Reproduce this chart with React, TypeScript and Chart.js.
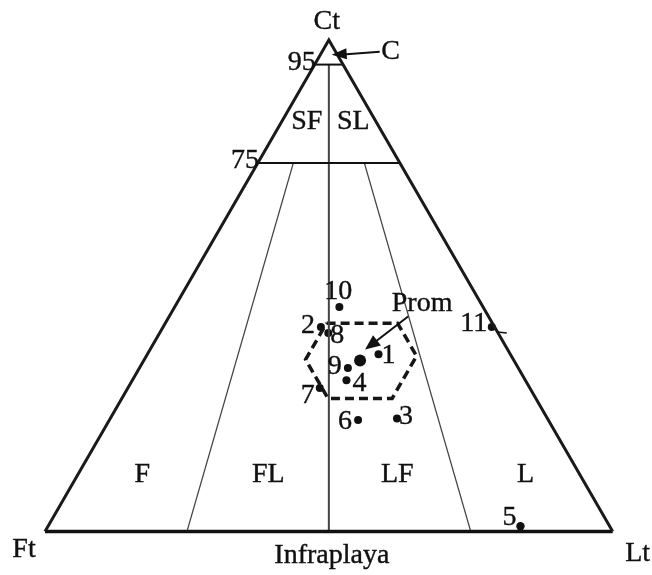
import React, { useEffect, useRef } from "react";
import { Chart, registerables } from "chart.js";

Chart.register(...registerables);

const SQ = Math.sqrt(3) / 2;
const FONT = "28px 'Liberation Serif'";

// Sample compositions (%): Ct, Lt, Ft
const sampleNames = ["1", "2", "3", "4", "5", "6", "7", "8", "9", "10", "11"];
const sampleCt = [36.1, 41.6, 23.0, 30.8, 1.1, 22.7, 29.2, 40.4, 33.3, 45.7, 41.6];
const sampleLt = [40.7, 27.8, 50.5, 37.7, 83.2, 43.8, 33.8, 29.7, 36.7, 29.0, 57.9];
const sampleFt = [23.2, 30.6, 26.5, 31.5, 15.7, 33.5, 37.0, 29.9, 30.0, 25.3, 0.5];

// Mean (Prom) and component C
const promCt = 34.8;
const promLt = 38.1;
const cCt = 97.0;
const cLt = 2.0;

// Std-dev hexagon vertices (%)
const hexCt = [42.4, 42.4, 35.7, 27.1, 27.1, 35.0, 42.4];
const hexLt = [28.4, 40.9, 47.6, 47.6, 36.3, 28.4, 28.4];

// Classification boundaries
const ctLevels = [95, 75];
const ltRatios = [25, 50, 75]; // Lt/(Lt+Ft) %
const ratioTopCt = [75, 95, 75];

const regionNames = ["SF", "SL", "F", "FL", "LF", "L"];
const regionCt = [83.4, 83.4, 11.5, 11.5, 11.5, 11.5];
const regionLt = [4.4, 12.6, 11.4, 33.6, 56.3, 78.9];

const toX = (ct: number, lt: number) => lt / 100 + ct / 200;
const toY = (ct: number) => (ct / 100) * SQ;
const pt = (ct: number, lt: number) => ({ x: toX(ct, lt), y: toY(ct) });

const labelOffsets: Record<string, [number, number]> = {
  "1": [10, 2],
  "2": [-13, -1],
  "3": [9, -2],
  "4": [13, 3],
  "5": [-11, -9],
  "6": [-13, 2],
  "7": [-12, 8],
  "8": [9, 3],
  "9": [-13, -1],
  "10": [-1, -15],
  "11": [-18, -3],
};

function arrowHead(ctx: CanvasRenderingContext2D, fx: number, fy: number, tx: number, ty: number, len: number, half: number) {
  const a = Math.atan2(ty - fy, tx - fx);
  ctx.beginPath();
  ctx.moveTo(tx, ty);
  ctx.lineTo(tx - len * Math.cos(a) + half * Math.sin(a), ty - len * Math.sin(a) - half * Math.cos(a));
  ctx.lineTo(tx - len * Math.cos(a) - half * Math.sin(a), ty - len * Math.sin(a) + half * Math.cos(a));
  ctx.closePath();
  ctx.fill();
}

function txt(ctx: CanvasRenderingContext2D, s: string, x: number, y: number) {
  ctx.fillText(s, x, y);
  ctx.strokeText(s, x, y);
}

const textPlugin = {
  id: "ternaryText",
  afterDatasetsDraw(chart: any) {
    const { ctx } = chart;
    const xs = chart.scales.x;
    const ys = chart.scales.y;
    const P = (ct: number, lt: number): [number, number] => [xs.getPixelForValue(toX(ct, lt)), ys.getPixelForValue(toY(ct))];
    ctx.save();
    ctx.fillStyle = "#111";
    ctx.strokeStyle = "#111";
    ctx.lineWidth = 0.4;
    ctx.font = FONT + ", 'Times New Roman', serif";
    ctx.textAlign = "center";
    ctx.textBaseline = "middle";

    // vertex labels
    const apex = P(100, 0);
    const ft = P(0, 0);
    const lt = P(0, 100);
    txt(ctx, "Ct", apex[0] - 2, apex[1] - 18);
    txt(ctx, "Ft", ft[0] - 21, ft[1] + 18);
    txt(ctx, "Lt", lt[0] + 25, lt[1] + 22);
    const mid = P(0, 50);
    txt(ctx, "Infraplaya", mid[0] + 3, mid[1] + 24);

    // level labels
    ctx.textAlign = "right";
    ctLevels.forEach((c) => {
      const p = P(c, 0);
      txt(ctx, String(c), p[0] + 1, p[1] - 2);
    });
    ctx.textAlign = "center";

    // region labels
    regionNames.forEach((n, i) => {
      const p = P(regionCt[i], regionLt[i]);
      txt(ctx, n, p[0], p[1]);
    });

    // sample labels
    sampleNames.forEach((n, i) => {
      const p = P(sampleCt[i], sampleLt[i]);
      const o = labelOffsets[n];
      txt(ctx, n, p[0] + o[0], p[1] + o[1]);
    });

    // small tick by sample 11
    const p11 = P(sampleCt[10], sampleLt[10]);
    ctx.lineWidth = 1.5;
    ctx.beginPath();
    ctx.moveTo(p11[0] + 6, p11[1] + 5);
    ctx.lineTo(p11[0] + 15, p11[1] + 6);
    ctx.stroke();

    // C arrow
    const pc = P(cCt, cLt);
    ctx.lineWidth = 1.8;
    ctx.beginPath();
    ctx.moveTo(pc[0] + 48, pc[1] - 3);
    ctx.lineTo(pc[0] + 8, pc[1]);
    ctx.stroke();
    arrowHead(ctx, pc[0] + 48, pc[1] - 3, pc[0], pc[1], 15, 5.5);
    ctx.lineWidth = 0.4;
    txt(ctx, "C", pc[0] + 59, pc[1] - 3);

    // Prom arrow
    const pp = P(promCt, promLt);
    const tip: [number, number] = [pp[0] + 5, pp[1] - 11];
    const tail: [number, number] = [pp[0] + 48, pp[1] - 44];
    ctx.lineWidth = 2;
    ctx.beginPath();
    ctx.moveTo(tail[0], tail[1]);
    ctx.lineTo(tip[0] + 8, tip[1] - 6);
    ctx.stroke();
    arrowHead(ctx, tail[0], tail[1], tip[0], tip[1], 15, 6.5);
    ctx.lineWidth = 0.4;
    txt(ctx, "Prom", pp[0] + 62, pp[1] - 57);

    ctx.restore();
  },
};

export default function App() {
  const ref = useRef<HTMLCanvasElement | null>(null);

  useEffect(() => {
    if (!ref.current) return;

    const lineDs = (data: { x: number; y: number }[], color: string, width: number, extra: any = {}) => ({
      type: "scatter" as const,
      data,
      showLine: true,
      borderColor: color,
      borderWidth: width,
      pointRadius: 0,
      fill: false,
      tension: 0,
      clip: false,
      ...extra,
    });

    const datasets: any[] = [];

    // Outer triangle
    datasets.push(lineDs([pt(0, 0), pt(100, 0), pt(0, 100)], "#1a1a1a", 3));
    datasets.push(lineDs([pt(0, 0), pt(0, 100)], "#111", 3.5));

    // Ct level lines
    ctLevels.forEach((c) => {
      datasets.push(lineDs([pt(c, 0), pt(c, 100 - c)], "#111", 2));
    });

    // Ratio lines
    ltRatios.forEach((r, i) => {
      const top = ratioTopCt[i];
      const isCenter = r === 50;
      datasets.push(
        lineDs(
          [pt(top, ((100 - top) * r) / 100), pt(0, r)],
          "#444",
          isCenter ? 2 : 1.3
        )
      );
    });

    // Hexagon
    datasets.push(
      lineDs(
        hexCt.map((c, i) => pt(c, hexLt[i])),
        "#161616",
        3.5,
        { borderDash: [9, 5], borderCapStyle: "butt", borderJoinStyle: "miter" }
      )
    );

    // Samples
    datasets.push({
      type: "scatter",
      data: sampleCt.map((c, i) => pt(c, sampleLt[i])),
      pointRadius: sampleNames.map((n) => (n === "5" ? 4.2 : 4)),
      pointBackgroundColor: "#111",
      pointBorderWidth: 0,
      showLine: false,
      clip: false,
    });

    // Prom mean
    datasets.push({
      type: "scatter",
      data: [pt(promCt, promLt)],
      pointRadius: 6,
      pointBackgroundColor: "#111",
      pointBorderWidth: 0,
      showLine: false,
      clip: false,
    });

    const chart = new Chart(ref.current, {
      type: "scatter",
      data: { datasets },
      options: {
        responsive: false,
        animation: false,
        devicePixelRatio: 1,
        layout: { padding: { left: 45, right: 39.3, top: 40, bottom: 43.4 } },
        plugins: { legend: { display: false }, tooltip: { enabled: false } },
        events: [],
        scales: {
          x: { type: "linear", min: 0, max: 1, display: false },
          y: { type: "linear", min: 0, max: SQ, display: false },
        },
      },
      plugins: [textPlugin],
    });
    let alive = true;
    const fonts = (document as any).fonts;
    if (fonts && fonts.load) {
      fonts
        .load(FONT)
        .then(() => {
          if (alive) chart.update();
        })
        .catch(() => {});
    }
    return () => {
      alive = false;
      chart.destroy();
    };
  }, []);

  return (
    <div style={{ position: "absolute", left: 0, top: 0, width: 652, height: 575, background: "#fff" }}>
      <span style={{ position: "absolute", left: 0, top: 0, fontFamily: "'Liberation Serif'", fontSize: 28, color: "transparent", pointerEvents: "none" }}>
        Infraplaya
      </span>
      <canvas ref={ref} width={652} height={575} style={{ position: "relative", width: 652, height: 575 }} />
    </div>
  );
}
